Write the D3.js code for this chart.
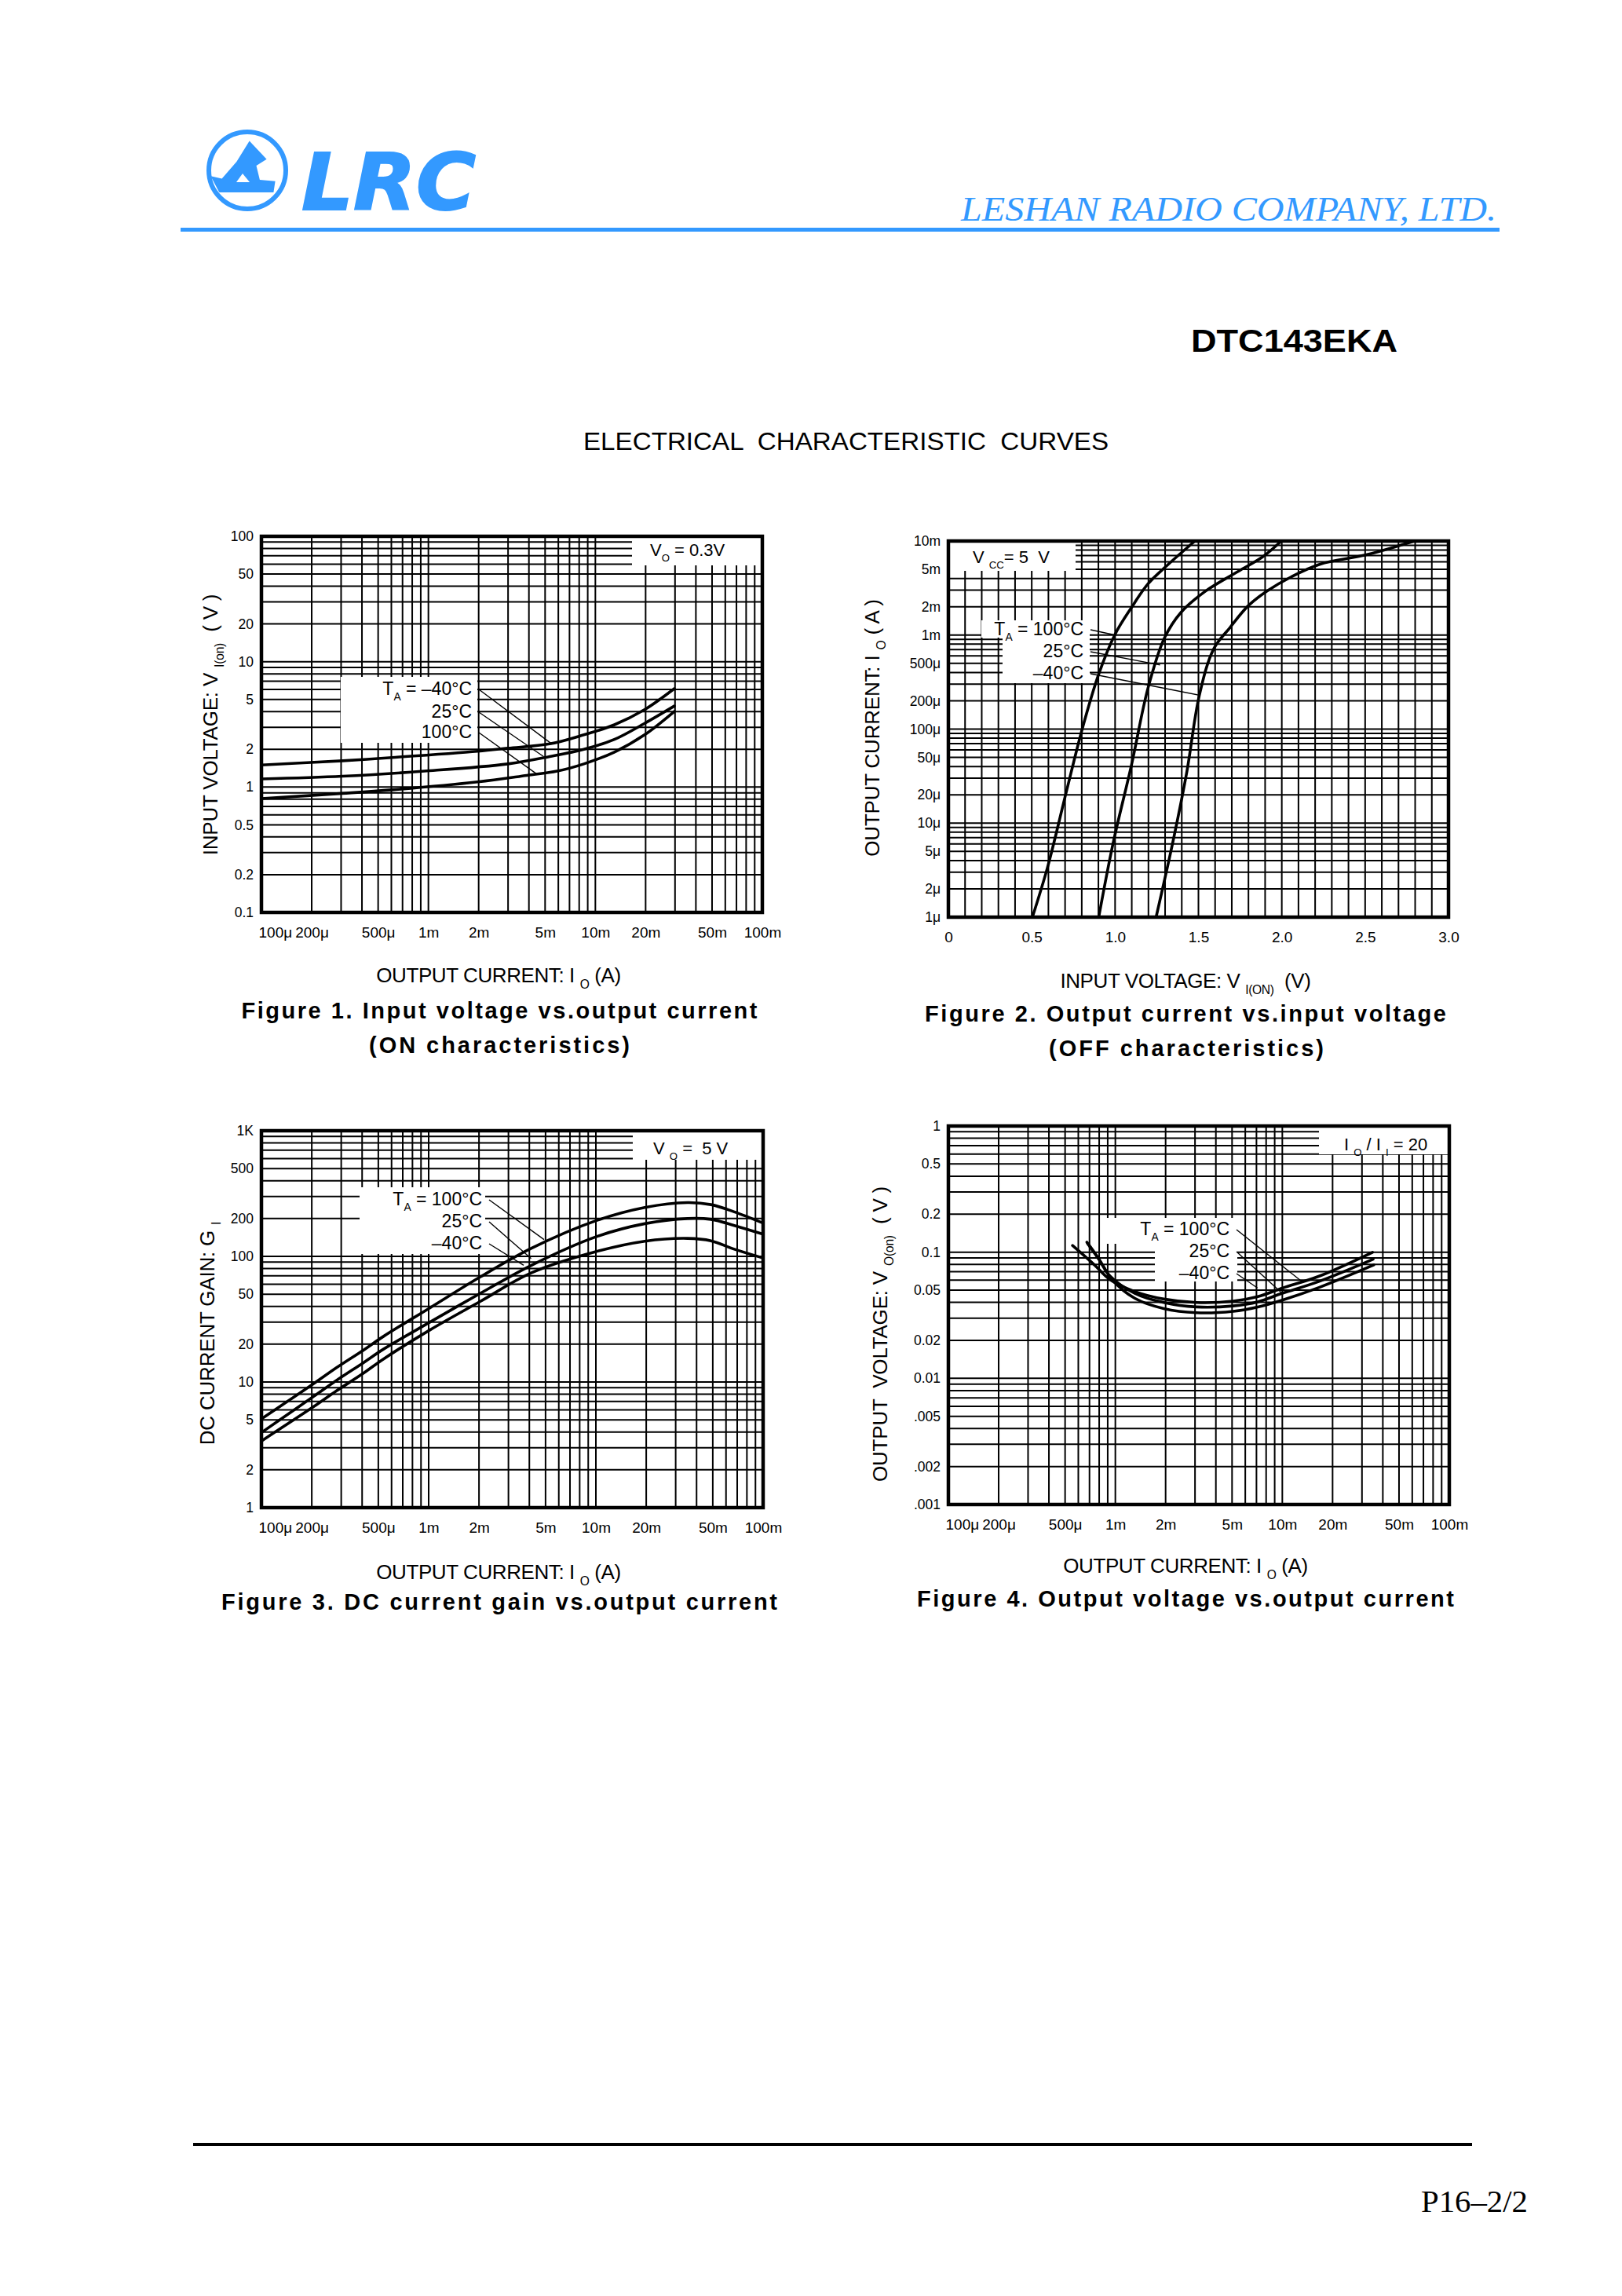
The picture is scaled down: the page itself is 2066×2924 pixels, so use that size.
<!DOCTYPE html>
<html>
<head>
<meta charset="utf-8">
<script src="https://cdn.jsdelivr.net/npm/d3@7"></script>
<style>
  html, body { margin: 0; padding: 0; background: #fff; }
  svg { display: block; }
  text { font-family: "Liberation Sans", Arial, Helvetica, sans-serif; white-space: pre; }
</style>
</head>
<body>
<svg id="page" width="2066" height="2924"></svg>
<script>
// ---- shared axis values ----
const currentTicks = [1e-4, 2e-4, 5e-4, 1e-3, 2e-3, 5e-3, 1e-2, 2e-2, 5e-2, 1e-1];
const currentLabels = ["100μ", "200μ", "500μ", "1m", "2m", "5m", "10m", "20m", "50m", "100m"];

// ---- Figure 1: input voltage vs output current ----
const f1Ticks = [100, 50, 20, 10, 5, 2, 1, 0.5, 0.2, 0.1];
const f1Labels = ["100", "50", "20", "10", "5", "2", "1", "0.5", "0.2", "0.1"];
const f1IoM40 = [1e-4, 3.06e-4, 6.05e-4, 1.97e-3, 2.99e-3, 5.33e-3, 8.53e-3, 1.3e-2, 1.97e-2, 2.97e-2];
const f1ViM40 = [1.50, 1.62, 1.72, 1.93, 2.04, 2.21, 2.61, 3.14, 4.14, 6.09];
const f1Io25 = [1e-4, 3.06e-4, 9.44e-4, 2.99e-3, 5.33e-3, 8.53e-3, 1.3e-2, 1.97e-2, 2.97e-2];
const f1Vi25 = [1.16, 1.22, 1.34, 1.53, 1.75, 2.0, 2.40, 3.22, 4.43];
const f1Io100 = [1e-4, 3.06e-4, 6.05e-4, 1.97e-3, 3.89e-3, 5.9e-3, 8.53e-3, 1.3e-2, 1.97e-2, 2.97e-2];
const f1Vi100 = [0.81, 0.89, 0.95, 1.10, 1.24, 1.34, 1.53, 1.90, 2.61, 4.01];

// ---- Figure 2: output current vs input voltage ----
const f2XTicks = [0, 0.5, 1, 1.5, 2, 2.5, 3];
const f2XLabels = ["0", "0.5", "1.0", "1.5", "2.0", "2.5", "3.0"];
const f2YTicks = [1e-2, 5e-3, 2e-3, 1e-3, 5e-4, 2e-4, 1e-4, 5e-5, 2e-5, 1e-5, 5e-6, 2e-6, 1e-6];
const f2YLabels = ["10m", "5m", "2m", "1m", "500μ", "200μ", "100μ", "50μ", "20μ", "10μ", "5μ", "2μ", "1μ"];
const f2Vi100 = [0.504, 0.595, 0.706, 0.804, 0.902, 1.0, 1.099, 1.197, 1.320, 1.479];
const f2Io100 = [1e-6, 3.4e-6, 2.1e-5, 1.02e-4, 3.85e-4, 1.02e-3, 1.97e-3, 3.5e-3, 5.67e-3, 1e-2];
const f2Vi25 = [0.902, 0.988, 1.099, 1.197, 1.296, 1.394, 1.542, 1.738, 1.886, 1.997];
const f2Io25 = [1e-6, 6.1e-6, 4.2e-5, 2.71e-4, 9.3e-4, 1.73e-3, 2.93e-3, 4.75e-3, 6.8e-3, 1e-2];
const f2ViM40 = [1.246, 1.345, 1.431, 1.505, 1.591, 1.689, 1.800, 1.911, 2.058, 2.230, 2.501, 2.796];
const f2IoM40 = [1e-6, 6.1e-6, 3.56e-5, 2.27e-4, 7.1e-4, 1.2e-3, 2.06e-3, 2.93e-3, 4.17e-3, 5.67e-3, 7.1e-3, 1e-2];

// ---- Figure 3: DC current gain vs output current ----
const f3Ticks = [1000, 500, 200, 100, 50, 20, 10, 5, 2, 1];
const f3Labels = ["1K", "500", "200", "100", "50", "20", "10", "5", "2", "1"];
const f3Io = [1e-4, 2.03e-4, 2.81e-4, 4.09e-4, 5.35e-4, 1.02e-3, 2.05e-3, 4.12e-3, 1e-2, 1.96e-2, 3.53e-2, 4.88e-2, 6.73e-2, 0.1];
const f3G100 = [5.08, 9.6, 13.0, 18.0, 23.0, 39.0, 69.0, 116, 192, 245, 268, 258, 226, 184];
const f3G25 = [3.96, 7.6, 10.3, 14.3, 18.2, 30.0, 51.0, 85, 143, 182, 200, 197, 176, 150];
const f3GM40 = [3.39, 6.3, 8.5, 11.8, 15.2, 26.0, 44, 74, 109, 132, 139, 133, 114, 97];

// ---- Figure 4: output voltage vs output current ----
const f4Ticks = [1, 0.5, 0.2, 0.1, 0.05, 0.02, 0.01, 0.005, 0.002, 0.001];
const f4Labels = ["1", "0.5", "0.2", "0.1", "0.05", "0.02", "0.01", ".005", ".002", ".001"];
const f4Io100 = [5.54e-4, 7.43e-4, 9.31e-4, 1.31e-3, 1.95e-3, 3.06e-3, 5.08e-3, 7.13e-3, 1e-2, 1.66e-2, 3.47e-2];
const f4Vo100 = [0.113, 0.0802, 0.0605, 0.0487, 0.0425, 0.0399, 0.0409, 0.0444, 0.0519, 0.0645, 0.0998];
const f4Io25 = [6.75e-4, 7.86e-4, 9.31e-4, 1.31e-3, 1.95e-3, 3.06e-3, 5.08e-3, 7.13e-3, 1e-2, 1.66e-2, 3.5e-2];
const f4Vo25 = [0.120, 0.0908, 0.0645, 0.0472, 0.0399, 0.0368, 0.0375, 0.0404, 0.0472, 0.0587, 0.088];
const f4IoM40 = [6.82e-4, 8.09e-4, 9.58e-4, 1.31e-3, 1.95e-3, 3.06e-3, 5.08e-3, 7.13e-3, 1e-2, 1.66e-2, 3.53e-2];
const f4VoM40 = [0.117, 0.0853, 0.0605, 0.043, 0.0357, 0.0331, 0.034, 0.0368, 0.0417, 0.0525, 0.0792];

const legendCold = [[["T", 0], ["A", 1], [" = –40°C", 0]], [["25°C", 0]], [["100°C", 0]]];
const legendHot = [[["T", 0], ["A", 1], [" = 100°C", 0]], [["25°C", 0]], [["–40°C", 0]]];
const currentTitle = [["OUTPUT CURRENT: I ", 0], ["O", 1], [" (A)", 0]];

const svg = d3.select("#page");
const blue = "#3399ff";
const SERIF = '"Liberation Serif", "DejaVu Serif", "Times New Roman", serif';

function logGrid(lo, hi) {
  const out = [];
  for (let e = Math.round(Math.log10(lo)); e <= Math.round(Math.log10(hi)); e++)
    for (let m = 1; m < 10; m++) {
      const v = m * Math.pow(10, e);
      if (v <= hi * 1.0001) out.push(v);
    }
  return out;
}

// text with subscript tspans; parts = [[text, isSub], ...]
function richText(g, x, y, parts, size, opts = {}) {
  const t = g.append("text").attr("x", x).attr("y", y)
    .attr("font-size", size).attr("text-anchor", opts.anchor || "start");
  if (opts.rotate) t.attr("transform", `rotate(-90 ${x} ${y})`);
  if (opts.ls) t.attr("letter-spacing", opts.ls);
  let shift = 0;
  parts.forEach(p => {
    const ts = t.append("tspan").text(p[0]);
    const want = p[1] ? size * 0.3 : 0;
    if (want !== shift) { ts.attr("dy", want - shift); shift = want; }
    if (p[1]) ts.attr("font-size", size * 0.6);
  });
  return t;
}

function chart(c) {
  const g = svg.append("g");
  const x = (c.xLog ? d3.scaleLog() : d3.scaleLinear()).domain(c.xDomain).range([c.left, c.right]);
  const y = d3.scaleLog().domain(c.yDomain).range([c.bottom, c.top]);

  // chart-paper grid
  g.append("g").selectAll("line").data(c.xGrid).join("line")
    .attr("x1", d => x(d)).attr("x2", d => x(d))
    .attr("y1", c.top).attr("y2", c.bottom)
    .attr("stroke", "#000").attr("stroke-width", 2);
  g.append("g").selectAll("line").data(logGrid(c.yDomain[0], c.yDomain[1])).join("line")
    .attr("x1", c.left).attr("x2", c.right)
    .attr("y1", d => y(d)).attr("y2", d => y(d))
    .attr("stroke", "#000").attr("stroke-width", 2);

  // white label areas over the grid
  g.append("g").selectAll("rect").data(c.boxes).join("rect")
    .attr("x", d => d.x).attr("y", d => d.y).attr("width", d => d.w).attr("height", d => d.h)
    .attr("fill", "#fff");

  g.append("rect")
    .attr("x", c.left).attr("y", c.top)
    .attr("width", c.right - c.left).attr("height", c.bottom - c.top)
    .attr("fill", "none").attr("stroke", "#000").attr("stroke-width", 4.5);

  const line = d3.line()
    .x(d => x(d[0])).y(d => y(d[1]))
    .curve(d3.curveCatmullRom.alpha(0.5));
  c.series.forEach(s => {
    g.append("path").datum(d3.zip(s[0], s[1]))
      .attr("d", line)
      .attr("fill", "none").attr("stroke", "#000")
      .attr("stroke-width", 3.6).attr("stroke-linecap", "round");
  });

  // condition note
  richText(g, c.note.x, c.note.y, c.note.parts, 22);

  // temperature legend + leader lines
  c.legend.rows.forEach((by, i) => {
    richText(g, c.legend.right, by, c.legend.parts[i], 23, { anchor: "end" });
    const e = c.legend.ends[i];
    g.append("line")
      .attr("x1", c.legend.right + 9).attr("y1", by - 7)
      .attr("x2", x(e[0])).attr("y2", y(e[1]))
      .attr("stroke", "#000").attr("stroke-width", 1.4);
  });

  // axes
  const ax = g.append("g").attr("transform", `translate(0,${c.bottom})`)
    .call(d3.axisBottom(x).tickValues(c.xTicks).tickFormat((d, i) => c.xLabels[i]).tickSize(0).tickPadding(19));
  ax.select(".domain").remove();
  ax.attr("font-size", 19).attr("font-family", null);
  if (c.xLog) ax.selectAll(".tick text").filter((d, i) => i === 0).attr("text-anchor", "start").attr("x", -4);

  const ay = g.append("g").attr("transform", `translate(${c.left},0)`)
    .call(d3.axisLeft(y).tickValues(c.yTicks).tickFormat((d, i) => c.yLabels[i]).tickSize(0).tickPadding(10));
  ay.select(".domain").remove();
  ay.attr("font-size", 17.5).attr("font-family", null);

  richText(g, c.xTitle.x, c.xTitle.y, c.xTitle.parts, 26, { anchor: "middle", ls: -0.4 });
  richText(g, c.yTitle.x, c.yTitle.y, c.yTitle.parts, 26, { anchor: "middle", rotate: true, ls: -0.2 });

  c.captions.forEach(cp => {
    g.append("text").attr("x", cp.x).attr("y", cp.y)
      .attr("text-anchor", "middle").attr("font-size", 29).attr("font-weight", "bold")
      .attr("textLength", cp.len).attr("lengthAdjust", "spacing")
      .text(cp.t);
  });
}

// ---- page header ----
svg.append("circle").attr("cx", 315).attr("cy", 217).attr("r", 49)
  .attr("fill", "none").attr("stroke", blue).attr("stroke-width", 6);
svg.append("path")
  .attr("d", "M317.7,179.6 L339.6,202.7 L326.5,211 L330.9,229.1 L350.6,230.8 L348.4,245 L279.3,245 L268.4,224.2 L282.6,227.5 L301.3,206 Z")
  .attr("fill", blue);
svg.append("path").attr("d", "M309,221 L318,232 L301,232 Z").attr("fill", "#fff");
svg.append("text").attr("x", 384).attr("y", 267)
  .style("font-family", '"DejaVu Sans", "Liberation Sans", sans-serif')
  .attr("font-size", 100).attr("font-weight", "bold").attr("font-style", "italic")
  .attr("fill", blue).attr("stroke", blue).attr("stroke-width", 2)
  .attr("textLength", 222).attr("lengthAdjust", "spacingAndGlyphs").text("LRC");
svg.append("text").attr("x", 1224).attr("y", 281)
  .style("font-family", SERIF)
  .attr("font-size", 44).attr("font-style", "italic").attr("fill", blue)
  .attr("textLength", 682).attr("lengthAdjust", "spacingAndGlyphs")
  .text("LESHAN RADIO COMPANY, LTD.");
svg.append("rect").attr("x", 230).attr("y", 290).attr("width", 1680).attr("height", 5).attr("fill", blue);

svg.append("text").attr("x", 1517).attr("y", 448)
  .attr("font-size", 41).attr("font-weight", "bold")
  .attr("textLength", 263).attr("lengthAdjust", "spacingAndGlyphs").text("DTC143EKA");
svg.append("text").attr("x", 743).attr("y", 573)
  .attr("font-size", 32)
  .attr("textLength", 669).attr("lengthAdjust", "spacingAndGlyphs").text("ELECTRICAL  CHARACTERISTIC  CURVES");

// ---- the four charts ----
chart({
  left: 333, right: 971, top: 683, bottom: 1162,
  xLog: true, xDomain: [1e-4, 0.1], yDomain: [0.1, 100],
  xGrid: logGrid(1e-4, 0.1), xTicks: currentTicks, xLabels: currentLabels,
  yTicks: f1Ticks, yLabels: f1Labels,
  series: [[f1IoM40, f1ViM40], [f1Io25, f1Vi25], [f1Io100, f1Vi100]],
  boxes: [{ x: 805, y: 685, w: 164, h: 35 }, { x: 434, y: 862, w: 174, h: 84 }],
  note: { x: 828, y: 708, parts: [["V", 0], ["O", 1], [" = 0.3V", 0]] },
  legend: { right: 601, rows: [885, 914, 940], parts: legendCold,
            ends: [[5.5e-3, 2.2], [4.9e-3, 1.75], [4.5e-3, 1.26]] },
  xTitle: { x: 635, y: 1251, parts: currentTitle },
  yTitle: { x: 277, y: 923, parts: [["INPUT VOLTAGE: V ", 0], ["I(on)", 1], ["  ( V )", 0]] },
  captions: [{ t: "Figure 1. Input voltage vs.output current", x: 636, y: 1297, len: 657 },
             { t: "(ON characteristics)", x: 636, y: 1341, len: 332 }]
});

chart({
  left: 1208, right: 1845, top: 689, bottom: 1168,
  xLog: false, xDomain: [0, 3], yDomain: [1e-6, 1e-2],
  xGrid: d3.range(0, 31).map(i => i / 10), xTicks: f2XTicks, xLabels: f2XLabels,
  yTicks: f2YTicks, yLabels: f2YLabels,
  series: [[f2Vi100, f2Io100], [f2Vi25, f2Io25], [f2ViM40, f2IoM40]],
  boxes: [{ x: 1210, y: 691, w: 160, h: 36 }, { x: 1250, y: 790, w: 138, h: 22 }, { x: 1277, y: 812, w: 111, h: 58 }],
  note: { x: 1239, y: 717, parts: [["V ", 0], ["CC", 1], ["= 5  V", 0]] },
  legend: { right: 1380, rows: [809, 837, 865], parts: legendHot,
            ends: [[1.0, 1.0e-3], [1.27, 4.8e-4], [1.5, 2.3e-4]] },
  xTitle: { x: 1510, y: 1258, parts: [["INPUT VOLTAGE: V ", 0], ["I(ON)", 1], ["  (V)", 0]] },
  yTitle: { x: 1120, y: 927, parts: [["OUTPUT CURRENT: I ", 0], ["O", 1], [" ( A )", 0]] },
  captions: [{ t: "Figure 2. Output current vs.input voltage", x: 1510, y: 1301, len: 664 },
             { t: "(OFF characteristics)", x: 1511, y: 1345, len: 350 }]
});

chart({
  left: 333, right: 972, top: 1440, bottom: 1920,
  xLog: true, xDomain: [1e-4, 0.1], yDomain: [1, 1000],
  xGrid: logGrid(1e-4, 0.1), xTicks: currentTicks, xLabels: currentLabels,
  yTicks: f3Ticks, yLabels: f3Labels,
  series: [[f3Io, f3G100], [f3Io, f3G25], [f3Io, f3GM40]],
  boxes: [{ x: 806, y: 1442, w: 164, h: 35 }, { x: 458, y: 1512, w: 160, h: 85 }],
  note: { x: 832, y: 1470, parts: [["V ", 0], ["O", 1], [" =  5 V", 0]] },
  legend: { right: 614, rows: [1535, 1563, 1591], parts: legendHot,
            ends: [[4.9e-3, 136], [4.1e-3, 96], [3.7e-3, 85]] },
  xTitle: { x: 635, y: 2011, parts: currentTitle },
  yTitle: { x: 273, y: 1698, parts: [["DC CURRENT GAIN: G ", 0], ["I", 1]] },
  captions: [{ t: "Figure 3. DC current gain vs.output current", x: 636, y: 2050, len: 708 }]
});

chart({
  left: 1208, right: 1846, top: 1434, bottom: 1916,
  xLog: true, xDomain: [1e-4, 0.1], yDomain: [0.001, 1],
  xGrid: logGrid(1e-4, 0.1), xTicks: currentTicks, xLabels: currentLabels,
  yTicks: f4Ticks, yLabels: f4Labels,
  series: [[f4Io100, f4Vo100], [f4Io25, f4Vo25], [f4IoM40, f4VoM40]],
  boxes: [{ x: 1680, y: 1436, w: 164, h: 34 }, { x: 1409, y: 1551, w: 167, h: 33 }, { x: 1471, y: 1584, w: 105, h: 48 }],
  note: { x: 1712, y: 1465, parts: [["I ", 0], ["O", 1], [" / I ", 0], ["I", 1], [" = 20", 0]] },
  legend: { right: 1566, rows: [1573, 1601, 1629], parts: legendHot,
            ends: [[1.3e-2, 0.059], [1e-2, 0.047], [7.1e-3, 0.052]] },
  xTitle: { x: 1510, y: 2003, parts: currentTitle },
  yTitle: { x: 1130, y: 1699, parts: [["OUTPUT  VOLTAGE: V ", 0], ["O(on)", 1], ["  ( V )", 0]] },
  captions: [{ t: "Figure 4. Output voltage vs.output current", x: 1510, y: 2046, len: 684 }]
});

// ---- footer ----
svg.append("line").attr("x1", 246).attr("x2", 1875).attr("y1", 2731).attr("y2", 2731)
  .attr("stroke", "#000").attr("stroke-width", 4);
svg.append("text").attr("x", 1810).attr("y", 2817)
  .style("font-family", SERIF)
  .attr("font-size", 40).attr("textLength", 136).attr("lengthAdjust", "spacingAndGlyphs")
  .text("P16–2/2");
</script>
</body>
</html>
